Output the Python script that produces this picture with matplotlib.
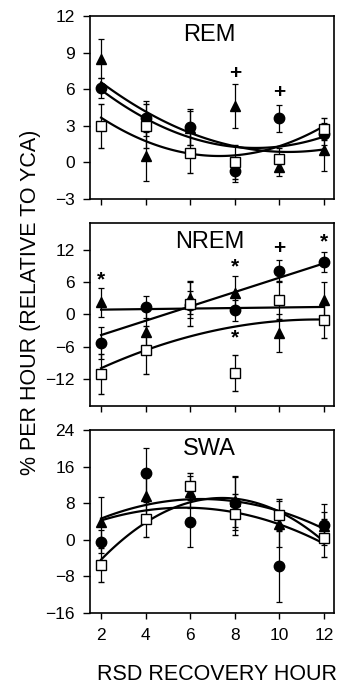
import numpy as np
import matplotlib
matplotlib.use("Agg")
import matplotlib.pyplot as plt

plt.rcParams['font.family'] = ['Liberation Sans', 'DejaVu Sans']

# recovery hours
hours = [2, 4, 6, 8, 10, 12]

# REM: means, errors and fitted-curve values
rem_circ = [6.1, 3.6, 2.9, -0.7, 3.6, 2.3]
rem_circ_err = [0.8, 1.4, 1.5, 0.9, 1.1, 0.9]
rem_sq = [3.0, 3.0, 0.8, 0.0, 0.3, 2.7]
rem_sq_err = [1.8, 1.8, 1.7, 1.4, 0.9, 0.9]
rem_tri = [8.5, 0.5, 2.8, 4.6, -0.35, 1.0]
rem_tri_err = [1.6, 2.0, 1.4, 1.8, 0.8, 1.7]
rem_circ_fit = [5.95, 3.6, 2.0, 1.3, 1.3, 2.1]
rem_sq_fit = [3.64, 1.75, 0.8, 0.5, 1.3, 3.0]
rem_tri_fit = [6.55, 4.2, 2.4, 1.3, 0.9, 1.05]

# NREM
nrem_circ = [-5.25, 1.4, 1.8, 0.75, 8.1, 9.75]
nrem_circ_err = [3.0, 2.0, 2.5, 2.0, 2.0, 1.9]
nrem_sq = [-11.1, -6.6, 2.0, -10.9, 2.75, -1.1]
nrem_sq_err = [3.7, 4.4, 4.2, 3.3, 3.5, 3.2]
nrem_tri = [2.25, -3.2, 3.1, 4.0, -3.4, 2.75]
nrem_tri_err = [2.7, 4.0, 3.0, 3.2, 3.5, 3.3]
nrem_circ_fit = [-3.8, -1.2, 1.5, 4.2, 6.8, 9.5]
nrem_sq_fit = [-10.0, -6.6, -4.1, -2.2, -1.3, -0.9]
nrem_tri_fit = [0.9, 1.0, 1.1, 1.2, 1.3, 1.4]

# SWA
swa_circ = [-0.4, 14.5, 4.0, 8.0, -5.8, 3.3]
swa_circ_err = [2.5, 5.5, 5.5, 5.8, 7.9, 4.5]
swa_sq = [-5.5, 4.5, 11.7, 5.6, 5.5, 0.4]
swa_sq_err = [3.7, 3.8, 3.0, 4.5, 3.5, 4.2]
swa_tri = [4.0, 9.5, 10.5, 8.4, 3.5, 3.0]
swa_tri_err = [5.3, 4.0, 3.5, 5.5, 5.0, 3.0]
swa_circ_fit = [4.4, 6.2, 6.8, 6.2, 3.6, -1.0]
swa_sq_fit = [-4.4, 3.8, 8.3, 9.1, 5.8, -0.2]
swa_tri_fit = [4.6, 7.6, 8.9, 8.7, 5.8, 2.6]

panels = [
    dict(title='REM', ylim=(-3, 12), yticks=[-3, 0, 3, 6, 9, 12],
         circ=rem_circ, circ_err=rem_circ_err, sq=rem_sq, sq_err=rem_sq_err,
         tri=rem_tri, tri_err=rem_tri_err,
         fits=[(rem_circ_fit, 2), (rem_sq_fit, 2), (rem_tri_fit, 2)],
         marks=[(8, 7.3, '+'), (10, 5.7, '+')]),
    dict(title='NREM', ylim=(-17, 17), yticks=[-12, -6, 0, 6, 12],
         circ=nrem_circ, circ_err=nrem_circ_err, sq=nrem_sq, sq_err=nrem_sq_err,
         tri=nrem_tri, tri_err=nrem_tri_err,
         fits=[(nrem_circ_fit, 1), (nrem_sq_fit, 2), (nrem_tri_fit, 1)],
         marks=[(2, 6.4, '*'), (8, 8.8, '*'), (8, -4.4, '*'), (10, 12.2, '+'), (12, 13.4, '*')]),
    dict(title='SWA', ylim=(-16, 24), yticks=[-16, -8, 0, 8, 16, 24],
         circ=swa_circ, circ_err=swa_circ_err, sq=swa_sq, sq_err=swa_sq_err,
         tri=swa_tri, tri_err=swa_tri_err,
         fits=[(swa_circ_fit, 2), (swa_sq_fit, 2), (swa_tri_fit, 2)],
         marks=[]),
]

fig = plt.figure(figsize=(3.46, 6.88), dpi=100)
bottoms = [0.7108, 0.4099, 0.109]
xs = np.linspace(2, 12, 100)

for i, p in enumerate(panels):
    ax = fig.add_axes([0.260, bottoms[i], 0.705, 0.266])

    # fitted curves
    for vals, deg in p['fits']:
        coef = np.polyfit(hours, vals, deg)
        ax.plot(xs, np.polyval(coef, xs), color='black', lw=1.6, zorder=2)

    ekw = dict(ecolor='black', elinewidth=0.9, capsize=2.5, capthick=0.9, ls='none')
    ax.errorbar(hours, p['tri'], yerr=p['tri_err'], marker='^', ms=7.5,
                mfc='black', mec='black', zorder=3, **ekw)
    ax.errorbar(hours, p['circ'], yerr=p['circ_err'], marker='o', ms=7.5,
                mfc='black', mec='black', zorder=4, **ekw)
    ax.errorbar(hours, p['sq'], yerr=p['sq_err'], marker='s', ms=6.5,
                mfc='white', mec='black', mew=1.0, zorder=5, **ekw)

    for x, y, s in p['marks']:
        ax.text(x, y, s, ha='center', va='center', fontsize=15, fontweight='bold')

    ax.text(0.49, 0.895, p['title'], transform=ax.transAxes, ha='center',
            va='center', fontsize=17)

    ax.set_xlim(1.5, 12.45)
    ax.set_ylim(*p['ylim'])
    ax.set_yticks(p['yticks'])
    ax.set_xticks(hours)
    ax.tick_params(axis='y', direction='out', length=5, width=1, pad=6, labelsize=12.5)
    ax.tick_params(axis='x', direction='out', length=4, width=1, pad=7, labelsize=12.5)
    if i < 2:
        ax.set_xticklabels([])
    for sp in ax.spines.values():
        sp.set_linewidth(1.2)

fig.text(0.628, 0.020, 'RSD RECOVERY HOUR', ha='center', va='center', fontsize=15.5)
fig.text(0.088, 0.56, '% PER HOUR (RELATIVE TO YCA)', ha='center', va='center',
         rotation=90, fontsize=15.5)

fig.savefig('out.png', dpi=100)
